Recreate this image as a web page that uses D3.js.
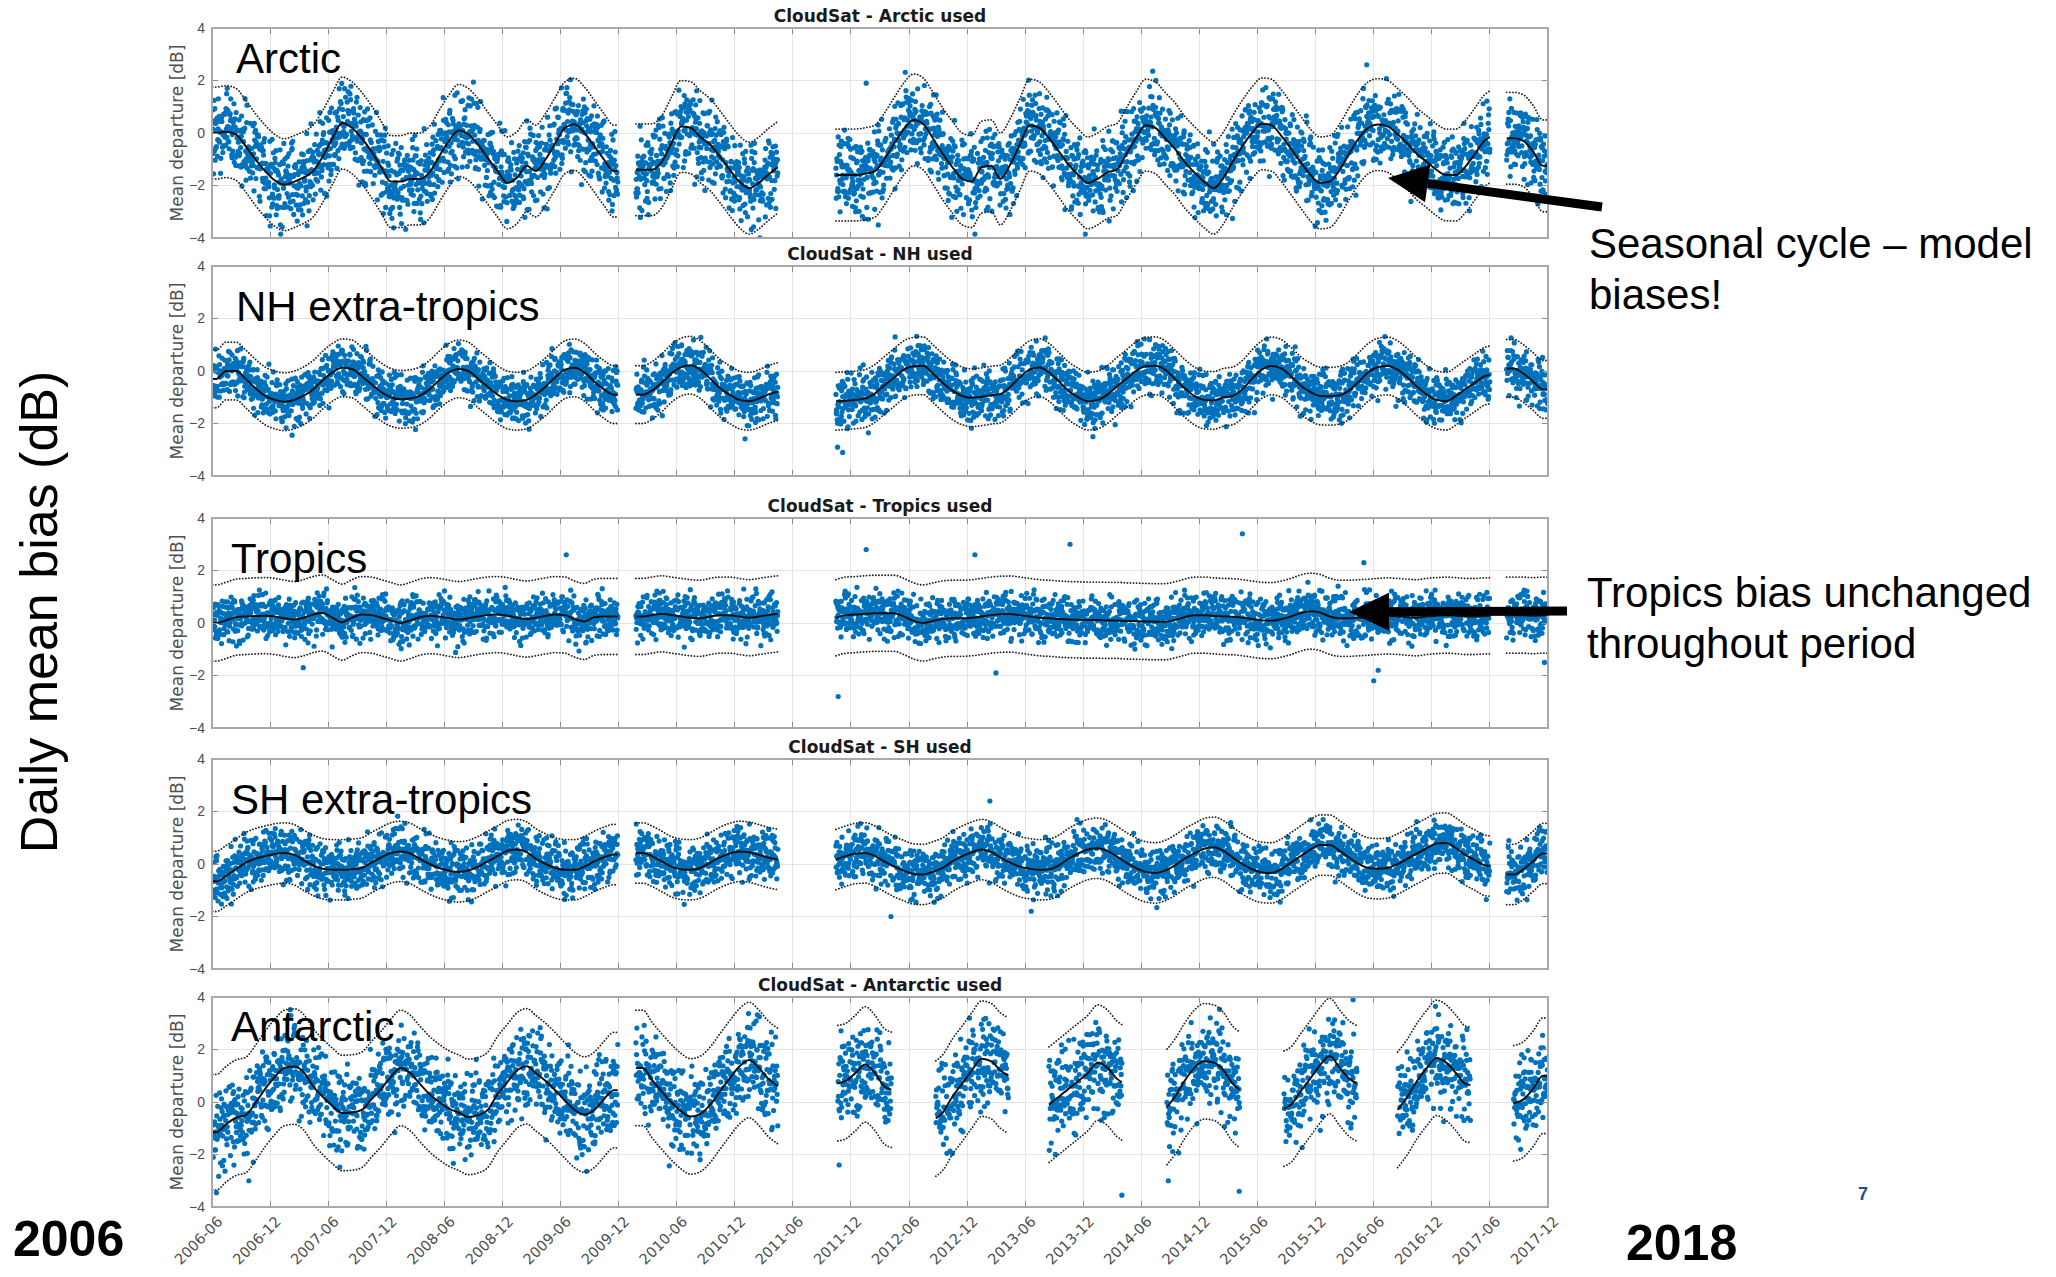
<!DOCTYPE html>
<meta charset="utf-8">
<style>
    body {
        margin: 0;
        background-color: #ffffff;
    }

    svg {
        display: block;
        font-family: "DejaVu Sans", sans-serif;
    }

    .grid line {
        stroke: #e4e4e4;
        stroke-width: 1px;
        shape-rendering: crispEdges;
    }

    .axis text {
        font-size: 14px;
        fill: #4d4d4d;
    }

    .axis path,
    .axis line {
        display: none;
    }

    .tick-mark {
        stroke: #8c8c8c;
        stroke-width: 1px;
        shape-rendering: crispEdges;
    }

    .frame {
        fill: none;
        stroke: #a9a9a9;
        stroke-width: 1.3px;
        shape-rendering: crispEdges;
    }

    .title {
        font-size: 17px;
        font-weight: bold;
        fill: #1a1a1a;
        text-anchor: middle;
    }

    .ylabel {
        font-size: 17px;
        fill: #505050;
        text-anchor: middle;
    }

    .dot {
        fill: #0072bd;
    }

    .mean {
        fill: none;
        stroke: #111111;
        stroke-width: 2px;
    }

    .band {
        fill: none;
        stroke: #222222;
        stroke-width: 1.8px;
        stroke-dasharray: 0.1 3;
        stroke-linecap: round;
    }

    .big {
        font-family: "Liberation Sans", Arial, sans-serif;
        fill: #000000;
    }
</style>

<body>
    <svg width="2056" height="1277"></svg>
    <script src="https://d3js.org/d3.v7.min.js"></script>
    <script>
        // ---- data ----
        // x axis tick labels (every 6 months)
        var tickLabels = ["2006-06", "2006-12", "2007-06", "2007-12", "2008-06", "2008-12",
            "2009-06", "2009-12", "2010-06", "2010-12", "2011-06", "2011-12",
            "2012-06", "2012-12", "2013-06", "2013-12", "2014-06", "2014-12",
            "2015-06", "2015-12", "2016-06", "2016-12", "2017-06", "2017-12"];
        var yTickValues = [-4, -2, 0, 2, 4];

        var panelTitles = ["CloudSat - Arctic used", "CloudSat - NH used", "CloudSat - Tropics used",
            "CloudSat - SH used", "CloudSat - Antarctic used"];
        var panelLabels = ["Arctic", "NH extra-tropics", "Tropics", "SH extra-tropics", "Antarctic"];

        // running mean [dB], one value per month from 2006-06 (null = no data)
        var arcticMean = [
            0.0, 0.05, -0.05, -0.5, -1.0, -1.45, -1.8, -1.97, -1.85, -1.7, -1.45, -0.9,
            -0.2, 0.38, 0.2, -0.2, -0.7, -1.3, -1.85, -1.85, -1.75, -1.75, -1.5, -0.9,
            -0.3, 0.1, -0.05, -0.45, -0.95, -1.45, -1.9, -1.7, -1.25, -1.45, -1.0, -0.4,
            0.2, 0.33, 0.0, -0.5, -1.0, -1.45, null, null, -1.4, -1.4, -1.1, -0.4,
            0.25, 0.2, -0.15, -0.45, -0.9, -1.4, -1.85, -2.1, -1.9, -1.6, -1.3, null,
            null, null, null, null, -1.6, -1.6, -1.6, -1.55, -1.45, -1.0, -0.4, 0.15,
            0.5, 0.35, -0.2, -0.8, -1.3, -1.75, -1.85, -1.3, -1.25, -1.75, -1.2, -0.45,
            0.3, 0.2, -0.2, -0.7, -1.2, -1.6, -1.9, -1.75, -1.5, -1.4, -0.8, -0.2,
            0.3, 0.2, -0.2, -0.6, -1.1, -1.5, -1.85, -2.1, -1.7, -1.1, -0.5, 0.0,
            0.35, 0.3, -0.1, -0.6, -1.1, -1.6, -1.9, -1.85, -1.4, -0.8, -0.2, 0.2,
            0.32, 0.25, -0.05, -0.4, -0.8, -1.1, -1.4, -1.6, -1.6, -1.3, -0.8, -0.3,
            0.0, null, -0.2, -0.3, -0.7, -1.25];
        var nhMean = [
            -0.3, 0.0, 0.0, -0.3, -0.65, -0.95, -1.1, -1.17, -1.1, -0.95, -0.7, -0.35,
            -0.05, 0.12, 0.08, -0.2, -0.5, -0.8, -1.0, -1.08, -1.05, -0.95, -0.7, -0.35,
            -0.05, 0.08, 0.0, -0.3, -0.6, -0.9, -1.1, -1.15, -1.1, -0.9, -0.6, -0.25,
            0.05, 0.12, -0.05, -0.4, -0.7, -0.9, null, null, -0.9, -0.75, -0.45, -0.1,
            0.15, 0.22, 0.05, -0.3, -0.65, -0.9, -1.1, -1.15, -1.05, -0.9, -0.78, null,
            null, null, null, null, -1.15, -1.13, -1.1, -1.05, -0.85, -0.55, -0.25, 0.05,
            0.18, 0.2, -0.1, -0.45, -0.75, -0.95, -1.02, -0.98, -0.92, -0.88, -0.6, -0.25,
            0.05, 0.13, -0.05, -0.4, -0.75, -1.0, -1.15, -1.1, -0.9, -0.6, -0.3, 0.0,
            0.18, 0.2, 0.05, -0.3, -0.65, -0.95, -1.1, -1.12, -1.0, -0.95, -0.7, -0.3,
            0.05, 0.19, 0.1, -0.2, -0.55, -0.8, -0.95, -0.96, -0.92, -0.75, -0.4, -0.05,
            0.15, 0.19, 0.05, -0.25, -0.6, -0.9, -1.1, -1.15, -0.95, -0.7, -0.45, -0.2,
            -0.1, null, 0.1, -0.1, -0.4, -0.7];
        var tropicsMean = [
            0.0, 0.1, 0.22, 0.25, 0.27, 0.28, 0.25, 0.18, 0.13, 0.2, 0.32, 0.38,
            0.2, 0.03, 0.2, 0.32, 0.3, 0.2, 0.1, 0.0, 0.1, 0.22, 0.28, 0.25,
            0.18, 0.13, 0.18, 0.25, 0.3, 0.32, 0.28, 0.2, 0.15, 0.2, 0.27, 0.32,
            0.3, 0.15, 0.06, 0.22, 0.25, 0.25, null, null, 0.25, 0.3, 0.35, 0.3,
            0.25, 0.2, 0.18, 0.25, 0.3, 0.3, 0.25, 0.2, 0.25, 0.3, 0.35, null,
            null, null, null, null, 0.2, 0.3, 0.32, 0.35, 0.37, 0.37, 0.37, 0.25,
            0.08, 0.0, 0.08, 0.15, 0.18, 0.18, 0.2, 0.25, 0.3, 0.33, 0.34, 0.3,
            0.25, 0.2, 0.18, 0.15, 0.13, 0.12, 0.11, 0.11, 0.1, 0.1, 0.08, 0.07,
            0.06, 0.05, 0.05, 0.12, 0.22, 0.3, 0.3, 0.27, 0.25, 0.24, 0.2, 0.15,
            0.1, 0.09, 0.15, 0.25, 0.38, 0.45, 0.4, 0.25, 0.18, 0.18, 0.2, 0.22,
            0.25, 0.27, 0.25, 0.22, 0.2, 0.25, 0.28, 0.3, 0.28, 0.25, 0.25, 0.27,
            0.28, null, 0.3, 0.3, 0.28, 0.3];
        var shMean = [
            -0.66, -0.45, -0.2, 0.05, 0.2, 0.3, 0.38, 0.42, 0.35, 0.15, -0.05, -0.18,
            -0.22, -0.22, -0.2, -0.15, 0.05, 0.25, 0.42, 0.48, 0.4, 0.2, 0.0, -0.15,
            -0.25, -0.3, -0.25, -0.1, 0.1, 0.3, 0.5, 0.55, 0.45, 0.2, 0.0, -0.15,
            -0.22, -0.22, -0.1, 0.1, 0.25, 0.36, null, null, 0.42, 0.3, 0.1, -0.1,
            -0.2, -0.22, -0.15, 0.05, 0.25, 0.4, 0.48, 0.45, 0.35, 0.25, 0.17, null,
            null, null, null, null, 0.17, 0.3, 0.4, 0.42, 0.3, 0.1, -0.1, -0.25,
            -0.38, -0.4, -0.3, -0.15, 0.1, 0.3, 0.45, 0.55, 0.45, 0.25, 0.05, -0.1,
            -0.18, -0.22, -0.2, -0.05, 0.2, 0.4, 0.55, 0.6, 0.5, 0.3, 0.05, -0.15,
            -0.3, -0.34, -0.25, -0.05, 0.2, 0.4, 0.58, 0.64, 0.5, 0.25, 0.0, -0.2,
            -0.32, -0.34, -0.2, 0.05, 0.3, 0.55, 0.72, 0.72, 0.5, 0.25, 0.0, -0.15,
            -0.18, -0.15, 0.0, 0.2, 0.4, 0.6, 0.78, 0.8, 0.6, 0.35, 0.15, -0.05,
            -0.1, null, -0.4, -0.2, 0.1, 0.4];
        var antarcticMean = [
            -1.15, -0.85, -0.6, -0.5, -0.05, 0.5, 0.95, 1.3, 1.35, 1.15, 0.6, 0.2,
            -0.15, -0.42, -0.4, -0.3, 0.1, 0.5, 0.95, 1.3, 1.1, 0.7, 0.3, 0.0,
            -0.25, -0.4, -0.57, -0.5, -0.3, 0.3, 0.75, 1.2, 1.36, 1.1, 0.8, 0.45,
            0.05, -0.3, -0.48, -0.3, 0.1, 0.45, null, null, 1.3, 0.85, 0.4, 0.0,
            -0.35, -0.55, -0.45, -0.1, 0.4, 0.9, 1.35, 1.6, 1.3, 0.9, 0.6, null,
            null, null, null, null, 0.7, 0.8, 1.1, 1.43, 1.1, 0.6, 0.4, null,
            null, null, -0.7, -0.4, 0.2, 0.7, 1.2, 1.65, 1.55, 1.2, 0.95, null,
            null, null, -0.1, 0.2, 0.5, 0.8, 1.1, 1.5, 1.3, 0.9, 0.6, null,
            null, null, -0.25, 0.2, 0.8, 1.3, 1.55, 1.5, 1.2, 0.7, 0.35, null,
            null, null, -0.3, -0.1, 0.4, 0.9, 1.4, 1.75, 1.3, 0.9, 0.65, null,
            null, null, -0.3, 0.2, 0.8, 1.3, 1.68, 1.5, 1.1, 0.7, 0.6, null,
            null, null, -0.05, 0.1, 0.5, 1.0];

        // periods with data (CloudSat battery anomaly 2011, daylight-only mode after)
        var mainSegments = [["2006-06-03", "2009-11-28"], ["2010-01-24", "2011-04-15"],
            ["2011-10-15", "2017-06-01"], ["2017-07-24", "2017-11-30"]];
        var antarcticSegments = [["2006-06-03", "2009-11-28"], ["2010-01-24", "2011-04-15"],
            ["2011-10-21", "2012-04-06"], ["2012-08-24", "2013-04-09"], ["2013-08-15", "2014-04-01"],
            ["2014-08-21", "2015-04-06"], ["2015-08-24", "2016-04-09"], ["2016-08-15", "2017-04-01"],
            ["2017-08-15", "2017-11-30"]];

        // half width of dotted envelope and spread of the daily dots [dB]
        var bandHalfWidth = [1.75, 1.1, 1.45, 1.15, 2.2];
        var scatterSpread = [0.72, 0.45, 0.4, 0.45, 0.78];

        // daily departures normalised by the spread (typed from the cloud shape)
        var residuals = [0.3, -1.1, 0.8, -0.2, 1.6, -0.7, 0.1, -1.9, 0.5, 1.2,
            -0.4, 0.9, -1.3, 0.0, 0.6, -0.8, 2.1, -0.5, 0.2, -1.6,
            1.0, -0.1, 0.4, -1.0, 1.4, -2.2, 0.7, -0.3, 1.8, -0.9,
            0.1, -0.6, 1.1, -1.4, 0.3, 0.9, -0.2, -1.2, 1.5, -0.7,
            0.6, -0.4, 2.0, -1.7, 0.0, 0.8, -1.0, 0.4, -0.1, 1.3,
            -0.6, -1.5, 0.7, 0.2, -0.9, 1.7, -0.3, 0.5, -1.1, 0.9,
            -2.0, 0.3, 1.2, -0.5, 0.1, -0.8, 1.6, -1.3, 0.6, -0.2,
            0.4, -1.8, 1.0, -0.4, 0.2, 1.9, -0.7, -0.1, 0.8, -1.2,
            0.5, -0.6, 1.4, -0.9, 0.0, -1.4, 1.1, -0.3, 0.7, -2.3,
            0.3, 1.5, -0.5, 0.9, -1.0, 0.2, -0.2];

        // single days well away from the cloud
        var arcticOutliers = [["2007-01-03", -3.85], ["2012-01-18", 1.9], ["2012-02-25", -3.5],
            ["2012-12-25", -3.85], ["2013-12-07", -3.85], ["2016-05-10", 2.6]];
        var nhOutliers = [["2011-10-20", -2.9], ["2011-11-05", -3.1], ["2012-04-18", 1.3],
            ["2013-12-31", -2.5]];
        var tropicsOutliers = [["2007-03-15", -1.7], ["2009-06-19", 2.6], ["2011-10-22", -2.8],
            ["2012-01-18", 2.8], ["2012-12-25", 2.6], ["2013-03-01", -1.9], ["2013-10-20", 3.0],
            ["2015-04-15", 3.4], ["2016-05-01", 2.3], ["2016-06-01", -2.2], ["2016-06-15", -1.8],
            ["2017-11-20", -1.5]];
        var shOutliers = [["2012-04-05", -2.0], ["2013-02-10", 2.4], ["2013-06-20", -1.8]];
        var antarcticOutliers = [["2006-09-25", -3.0], ["2011-10-25", -2.4], ["2014-04-01", -3.55],
            ["2014-08-25", -3.0], ["2015-04-05", -3.4], ["2016-03-28", 3.9]];

        // ---- layout ----
        var svg = d3.select("svg");
        var plotLeft = 212,
            plotRight = 1548,
            plotH = 210,
            panelTops = [28, 266, 518, 759, 997],
            labelPos = [[236, 73], [236, 321], [231, 573], [231, 814], [231, 1041]];

        var parseDay = d3.timeParse("%Y-%m-%d"),
            parseMonth = d3.timeParse("%Y-%m");
        var startMonth = new Date(2006, 5, 1);
        var tickDates = tickLabels.map(parseMonth);

        var x = d3.scaleTime()
            .domain([tickDates[0], tickDates[tickDates.length - 1]])
            .range([plotLeft, plotRight]);

        var means = [arcticMean, nhMean, tropicsMean, shMean, antarcticMean];
        var outliers = [arcticOutliers, nhOutliers, tropicsOutliers, shOutliers, antarcticOutliers];
        var segments = [mainSegments, mainSegments, mainSegments, mainSegments, antarcticSegments];

        function monthPos(t) {
            var m0 = d3.timeMonth.floor(t);
            var frac = (t - m0) / (d3.timeMonth.offset(m0, 1) - m0);
            return d3.timeMonth.count(startMonth, m0) + frac;
        }

        // monthly value centred on mid month, linear in between
        function meanAt(arr, t) {
            var f = monthPos(t) - 0.5;
            var i = Math.floor(f), w = f - i;
            var a = arr[i], b = arr[i + 1];
            if (a == null) return b;
            if (b == null) return a;
            return a + (b - a) * w;
        }

        function segmentKnots(arr, seg) {
            var s = parseDay(seg[0]), e = parseDay(seg[1]);
            var pts = [{ t: s, v: meanAt(arr, s) }];
            arr.forEach(function (v, i) {
                var mid = d3.timeDay.offset(d3.timeMonth.offset(startMonth, i), 14);
                if (v != null && mid > s && mid < e) pts.push({ t: mid, v: v });
            });
            pts.push({ t: e, v: meanAt(arr, e) });
            return pts;
        }

        function dailyPoints(k) {
            var pts = [], n = residuals.length;
            segments[k].forEach(function (seg) {
                var s = parseDay(seg[0]), e = parseDay(seg[1]);
                d3.timeDay.range(s, d3.timeDay.offset(e, 1)).forEach(function (day) {
                    var d = d3.timeDay.count(startMonth, day);
                    var r = 0.72 * (residuals[(d * 13 + k * 29) % n] + residuals[(d * 5 + k * 11) % 89]);
                    pts.push({ t: day, v: meanAt(means[k], day) + scatterSpread[k] * r });
                });
            });
            outliers[k].forEach(function (o) {
                pts.push({ t: parseDay(o[0]), v: o[1] });
            });
            return pts;
        }

        panelTitles.forEach(function (title, k) {
            var top = panelTops[k],
                bottom = top + plotH;
            var y = d3.scaleLinear().domain([-4, 4]).range([bottom, top]);
            var g = svg.append("g");

            g.append("clipPath").attr("id", "clip" + k)
                .append("rect")
                .attr("x", plotLeft).attr("y", top)
                .attr("width", plotRight - plotLeft).attr("height", plotH);

            // grid
            var grid = g.append("g").attr("class", "grid");
            grid.selectAll(".gx").data(tickDates).enter().append("line")
                .attr("x1", function (d) { return x(d); })
                .attr("x2", function (d) { return x(d); })
                .attr("y1", top).attr("y2", bottom);
            grid.selectAll(".gy").data(yTickValues).enter().append("line")
                .attr("x1", plotLeft).attr("x2", plotRight)
                .attr("y1", function (d) { return y(d); })
                .attr("y2", function (d) { return y(d); });

            var plot = g.append("g").attr("clip-path", "url(#clip" + k + ")");

            plot.selectAll(".dot")
                .data(dailyPoints(k))
                .enter().append("circle")
                .attr("class", "dot")
                .attr("cx", function (d) { return x(d.t); })
                .attr("cy", function (d) { return y(d.v); })
                .attr("r", 2.6);

            var line = d3.line()
                .x(function (d) { return x(d.t); })
                .y(function (d) { return y(d.v); })
                .curve(d3.curveMonotoneX);

            segments[k].forEach(function (seg) {
                var knots = segmentKnots(means[k], seg);
                var hw = bandHalfWidth[k];
                plot.append("path").attr("class", "band")
                    .attr("d", line(knots.map(function (p) { return { t: p.t, v: p.v + hw }; })));
                plot.append("path").attr("class", "band")
                    .attr("d", line(knots.map(function (p) { return { t: p.t, v: p.v - hw }; })));
                plot.append("path").attr("class", "mean").attr("d", line(knots));
            });

            // inward ticks on all four sides
            var ticks = g.append("g");
            tickDates.forEach(function (d) {
                ticks.append("line").attr("class", "tick-mark")
                    .attr("x1", x(d)).attr("x2", x(d)).attr("y1", bottom).attr("y2", bottom - 6);
                ticks.append("line").attr("class", "tick-mark")
                    .attr("x1", x(d)).attr("x2", x(d)).attr("y1", top).attr("y2", top + 6);
            });
            yTickValues.forEach(function (v) {
                ticks.append("line").attr("class", "tick-mark")
                    .attr("x1", plotLeft).attr("x2", plotLeft + 6).attr("y1", y(v)).attr("y2", y(v));
                ticks.append("line").attr("class", "tick-mark")
                    .attr("x1", plotRight).attr("x2", plotRight - 6).attr("y1", y(v)).attr("y2", y(v));
            });

            g.append("rect").attr("class", "frame")
                .attr("x", plotLeft).attr("y", top)
                .attr("width", plotRight - plotLeft).attr("height", plotH);

            g.append("g")
                .attr("class", "axis")
                .attr("transform", "translate(" + plotLeft + ",0)")
                .call(d3.axisLeft(y).tickValues(yTickValues).tickSize(0).tickPadding(7));

            g.append("text")
                .attr("class", "ylabel")
                .attr("transform", "translate(177," + (top + plotH / 2) + ") rotate(-90)")
                .attr("dy", "0.35em")
                .text("Mean departure [dB]");

            g.append("text")
                .attr("class", "title")
                .attr("x", (plotLeft + plotRight) / 2)
                .attr("y", top - 6)
                .text(title);

            g.append("text")
                .attr("class", "big")
                .attr("x", labelPos[k][0])
                .attr("y", labelPos[k][1])
                .style("font-size", "42px")
                .text(panelLabels[k]);

            if (k === panelTitles.length - 1) {
                g.append("g").attr("class", "axis")
                    .selectAll("text")
                    .data(tickDates)
                    .enter().append("text")
                    .attr("transform", function (d) {
                        return "translate(" + (x(d) + 8) + "," + (bottom + 12) + ") rotate(-45)";
                    })
                    .attr("dy", "0.35em")
                    .style("text-anchor", "end")
                    .style("font-size", "14.5px")
                    .text(function (d, i) { return tickLabels[i]; });
            }
        });

        // ---- slide annotations ----
        svg.append("text")
            .attr("class", "big")
            .attr("transform", "translate(39,612) rotate(-90)")
            .attr("dy", "0.35em")
            .style("text-anchor", "middle")
            .style("font-size", "52px")
            .text("Daily mean bias (dB)");

        svg.append("text").attr("class", "big")
            .attr("x", 13).attr("y", 1256)
            .style("font-size", "50px").style("font-weight", "bold")
            .text("2006");
        svg.append("text").attr("class", "big")
            .attr("x", 1626).attr("y", 1260)
            .style("font-size", "50px").style("font-weight", "bold")
            .text("2018");
        svg.append("text").attr("class", "big")
            .attr("x", 1858).attr("y", 1200)
            .style("font-size", "18px").style("font-weight", "bold").style("fill", "#1f4e8c")
            .text("7");

        var notes = [
            { lines: ["Seasonal cycle \u2013 model", "biases!"], x: 1589, y: 258 },
            { lines: ["Tropics bias unchanged", "throughout period"], x: 1587, y: 607 }
        ];
        notes.forEach(function (n) {
            n.lines.forEach(function (s, i) {
                svg.append("text").attr("class", "big")
                    .attr("x", n.x).attr("y", n.y + i * 51)
                    .style("font-size", "42px")
                    .text(s);
            });
        });

        function arrow(x1, y1, x2, y2) {
            var a = Math.atan2(y2 - y1, x2 - x1),
                len = 40, half = 19;
            var bx = x2 - len * Math.cos(a), by = y2 - len * Math.sin(a);
            svg.append("line")
                .attr("x1", x1).attr("y1", y1).attr("x2", bx).attr("y2", by)
                .attr("stroke", "#000").attr("stroke-width", 9);
            svg.append("path")
                .attr("d", "M" + x2 + "," + y2 +
                    "L" + (bx + half * Math.sin(a)) + "," + (by - half * Math.cos(a)) +
                    "L" + (bx - half * Math.sin(a)) + "," + (by + half * Math.cos(a)) + "Z")
                .attr("fill", "#000");
        }
        arrow(1602, 207, 1388, 178);
        arrow(1567, 611, 1349, 612);
    </script>
</body>
